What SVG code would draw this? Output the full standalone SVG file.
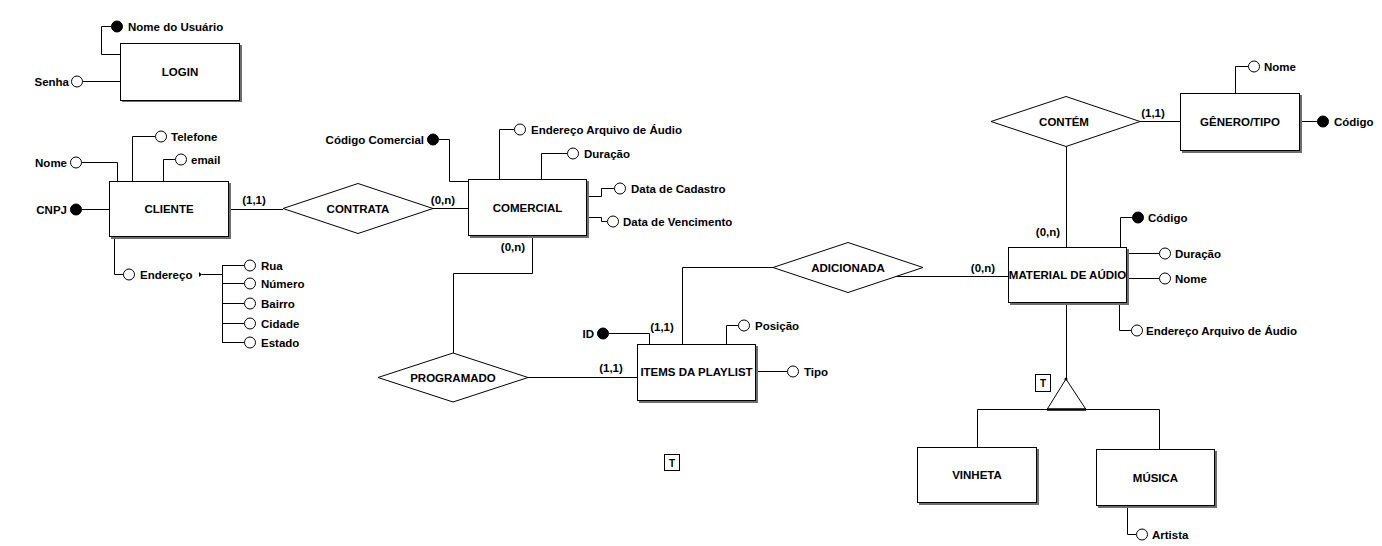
<svg xmlns="http://www.w3.org/2000/svg" width="1382" height="546" viewBox="0 0 1382 546">
<style>
text{font-family:"Liberation Sans",Arial,sans-serif;font-weight:bold;font-size:11.5px;fill:#000}
.c{text-anchor:middle}
.e{text-anchor:end}
.ent{fill:#fff;stroke:#000;stroke-width:1}
.sh{fill:#6e6e6e}
.rel{fill:#fff;stroke:#000;stroke-width:1}
.ln{fill:none;stroke:#000;stroke-width:1}
.ao{fill:#fff;stroke:#000;stroke-width:1}
.af{fill:#000;stroke:#000;stroke-width:1}
</style>
<rect width="1382" height="546" fill="#fff"/>
<g id="connectors" class="ln">
<path d="M229.5,209.5H283"/>
<path d="M433,208.5H468"/>
<path d="M532.5,236V273.5H453.5V353"/>
<path d="M528,377.5H637"/>
<path d="M682.5,344V267.5H773"/>
<path d="M848,276.5H1008"/>
<path d="M1066.5,146V247"/>
<path d="M1140,121.5H1180"/>
<path d="M1066.5,303V379"/>
<path d="M1047,409.5H977.5V447"/>
<path d="M1086,409.5H1159.5V449"/>
</g>
<g id="cardinalities">
<text x="254" y="204" class="c">(1,1)</text>
<text x="443" y="204" class="c">(0,n)</text>
<text x="513" y="251" class="c">(0,n)</text>
<text x="611" y="372" class="c">(1,1)</text>
<text x="662" y="331" class="c">(1,1)</text>
<text x="983" y="272" class="c">(0,n)</text>
<text x="1048" y="236" class="c">(0,n)</text>
<text x="1153" y="117" class="c">(1,1)</text>
</g>
<g id="login">
<path class="ln" d="M111,26.5H101.5V54.5H120"/>
<circle class="af" cx="117" cy="26.5" r="5.5"/>
<text x="128" y="30.5">Nome do Usuário</text>
<path class="ln" d="M83,81.5H120"/>
<circle class="ao" cx="77" cy="81.5" r="5.5"/>
<text x="69" y="85.5" class="e">Senha</text>
<rect class="sh" x="122" y="45" width="120" height="57"/>
<rect class="ent" x="120.5" y="43.5" width="119" height="57"/>
<text x="180" y="76" class="c">LOGIN</text>
</g>
<g id="cliente">
<path class="ln" d="M82,162.5H117.5V181"/>
<circle class="ao" cx="76" cy="162.5" r="5.5"/>
<text x="67" y="166.5" class="e">Nome</text>
<path class="ln" d="M132.5,181V136.5H155"/>
<circle class="ao" cx="161" cy="136.5" r="5.5"/>
<text x="171" y="140.5">Telefone</text>
<path class="ln" d="M163.5,181V159.5H175"/>
<circle class="ao" cx="181" cy="159.5" r="5.5"/>
<text x="191" y="163.5">email</text>
<path class="ln" d="M82,209.5H109"/>
<circle class="af" cx="76" cy="209.5" r="5.5"/>
<text x="67" y="213.5" class="e">CNPJ</text>
<path class="ln" d="M114.5,237V274.5H123"/>
<circle class="ao" cx="129" cy="274.5" r="5.5"/>
<text x="140" y="278.5">Endereço</text>
<path d="M199,272L202,274.5L199,277Z" fill="#000"/>
<path class="ln" d="M202,274.5H222.5M222.5,265V342.5M222,265.5H244M222,283.5H244M222,303.5H244M222,323.5H244M222,342.5H244"/>
<circle class="ao" cx="250" cy="265.5" r="5.5"/>
<circle class="ao" cx="250" cy="283.5" r="5.5"/>
<circle class="ao" cx="250" cy="303.5" r="5.5"/>
<circle class="ao" cx="250" cy="323.5" r="5.5"/>
<circle class="ao" cx="250" cy="342.5" r="5.5"/>
<text x="261" y="269.5">Rua</text>
<text x="261" y="287.5">Número</text>
<text x="261" y="307.5">Bairro</text>
<text x="261" y="327.5">Cidade</text>
<text x="261" y="346.5">Estado</text>
<rect class="sh" x="111" y="183" width="120" height="56"/>
<rect class="ent" x="109.5" y="181.5" width="119" height="55"/>
<text x="169" y="213" class="c">CLIENTE</text>
</g>
<g id="contrata">
<polygon class="rel" points="283,208.5 358,183.5 433,208.5 358,233.5"/>
<text x="358" y="212.5" class="c">CONTRATA</text>
</g>
<g id="comercial">
<path class="ln" d="M439,139.5H449.5V181.5H468"/>
<circle class="af" cx="433" cy="139.5" r="5.5"/>
<text x="424" y="143.5" class="e">Código Comercial</text>
<path class="ln" d="M499.5,179V129.5H514"/>
<circle class="ao" cx="520" cy="129.5" r="5.5"/>
<text x="531" y="133.5">Endereço Arquivo de Áudio</text>
<path class="ln" d="M541.5,179V153.5H567"/>
<circle class="ao" cx="573" cy="153.5" r="5.5"/>
<text x="584" y="157.5">Duração</text>
<path class="ln" d="M587,196.5H601.5V188.5H614"/>
<circle class="ao" cx="620" cy="188.5" r="5.5"/>
<text x="631" y="192.5">Data de Cadastro</text>
<path class="ln" d="M587,217.5H601.5V221.5H607"/>
<circle class="ao" cx="613" cy="221.5" r="5.5"/>
<text x="623" y="225.5">Data de Vencimento</text>
<rect class="sh" x="470" y="181" width="119" height="57"/>
<rect class="ent" x="468.5" y="179.5" width="118" height="56"/>
<text x="527.5" y="211.5" class="c">COMERCIAL</text>
</g>
<g id="programado">
<polygon class="rel" points="378,377.5 453,353 528,377.5 453,402"/>
<text x="453" y="381.5" class="c">PROGRAMADO</text>
</g>
<g id="items">
<path class="ln" d="M609,333.5H649.5V344"/>
<circle class="af" cx="603" cy="333.5" r="5.5"/>
<text x="594" y="337.5" class="e">ID</text>
<path class="ln" d="M726.5,344V325.5H738"/>
<circle class="ao" cx="744" cy="325.5" r="5.5"/>
<text x="755" y="329.5">Posição</text>
<path class="ln" d="M756,371.5H787"/>
<circle class="ao" cx="793" cy="371.5" r="5.5"/>
<text x="804" y="375.5">Tipo</text>
<rect class="sh" x="639" y="346" width="119" height="57"/>
<rect class="ent" x="637.5" y="344.5" width="118" height="56"/>
<text x="696.5" y="376" class="c">ITEMS DA PLAYLIST</text>
</g>
<g id="t1">
<rect x="664.5" y="454.5" width="15" height="16" fill="#fff" stroke="#000"/>
<text x="672" y="466.5" class="c" style="font-size:10px">T</text>
</g>
<g id="adicionada">
<polygon class="rel" points="773,267.5 848,242.5 923,267.5 848,292.5"/>
<text x="848" y="271.5" class="c">ADICIONADA</text>
</g>
<g id="contem">
<polygon class="rel" points="991,121.5 1066,96.5 1140,121.5 1066,146.5"/>
<text x="1064" y="125.5" class="c">CONTÉM</text>
</g>
<g id="genero">
<path class="ln" d="M1235.5,93V66.5H1248"/>
<circle class="ao" cx="1254" cy="66.5" r="5.5"/>
<text x="1264" y="70.5">Nome</text>
<path class="ln" d="M1300,121.5H1317"/>
<circle class="af" cx="1323" cy="121.5" r="5.5"/>
<text x="1334" y="125.5">Código</text>
<rect class="sh" x="1182" y="95" width="120" height="58"/>
<rect class="ent" x="1180.5" y="93.5" width="119" height="57"/>
<text x="1240" y="126" class="c">GÊNERO/TIPO</text>
</g>
<g id="material">
<path class="ln" d="M1120.5,247V217.5H1132"/>
<circle class="af" cx="1138" cy="217.5" r="5.5"/>
<text x="1148" y="221.5">Código</text>
<path class="ln" d="M1127,253.5H1159"/>
<circle class="ao" cx="1165" cy="253.5" r="5.5"/>
<text x="1175" y="257.5">Duração</text>
<path class="ln" d="M1127,278.5H1159"/>
<circle class="ao" cx="1165" cy="278.5" r="5.5"/>
<text x="1175" y="282.5">Nome</text>
<path class="ln" d="M1119.5,303V330.5H1131"/>
<circle class="ao" cx="1137" cy="330.5" r="5.5"/>
<text x="1146" y="334.5">Endereço Arquivo de Áudio</text>
<rect class="sh" x="1010" y="249" width="119" height="56"/>
<rect class="ent" x="1008.5" y="247.5" width="118" height="55"/>
<text x="1067.5" y="279" class="c">MATERIAL DE AÚDIO</text>
</g>
<g id="especializacao">
<polygon points="1066,379 1047,409.5 1086,409.5" fill="#fff" stroke="#000" stroke-width="1"/>
<path d="M1047,409.5H1086" stroke="#000" stroke-width="2.5"/>
<circle cx="1066" cy="379" r="1.5" fill="#000"/>
<rect x="1035.5" y="374.5" width="15" height="17" fill="#fff" stroke="#000"/>
<text x="1043" y="387" class="c" style="font-size:10px">T</text>
</g>
<g id="vinheta">
<rect class="sh" x="919" y="449" width="120" height="56"/>
<rect class="ent" x="917.5" y="447.5" width="119" height="55"/>
<text x="977" y="479" class="c">VINHETA</text>
</g>
<g id="musica">
<path class="ln" d="M1127.5,506V534.5H1136"/>
<circle class="ao" cx="1142" cy="534.5" r="5.5"/>
<text x="1152" y="538.5">Artista</text>
<rect class="sh" x="1098" y="451" width="119" height="57"/>
<rect class="ent" x="1096.5" y="449.5" width="118" height="56"/>
<text x="1155.5" y="481.5" class="c">MÚSICA</text>
</g>
</svg>
